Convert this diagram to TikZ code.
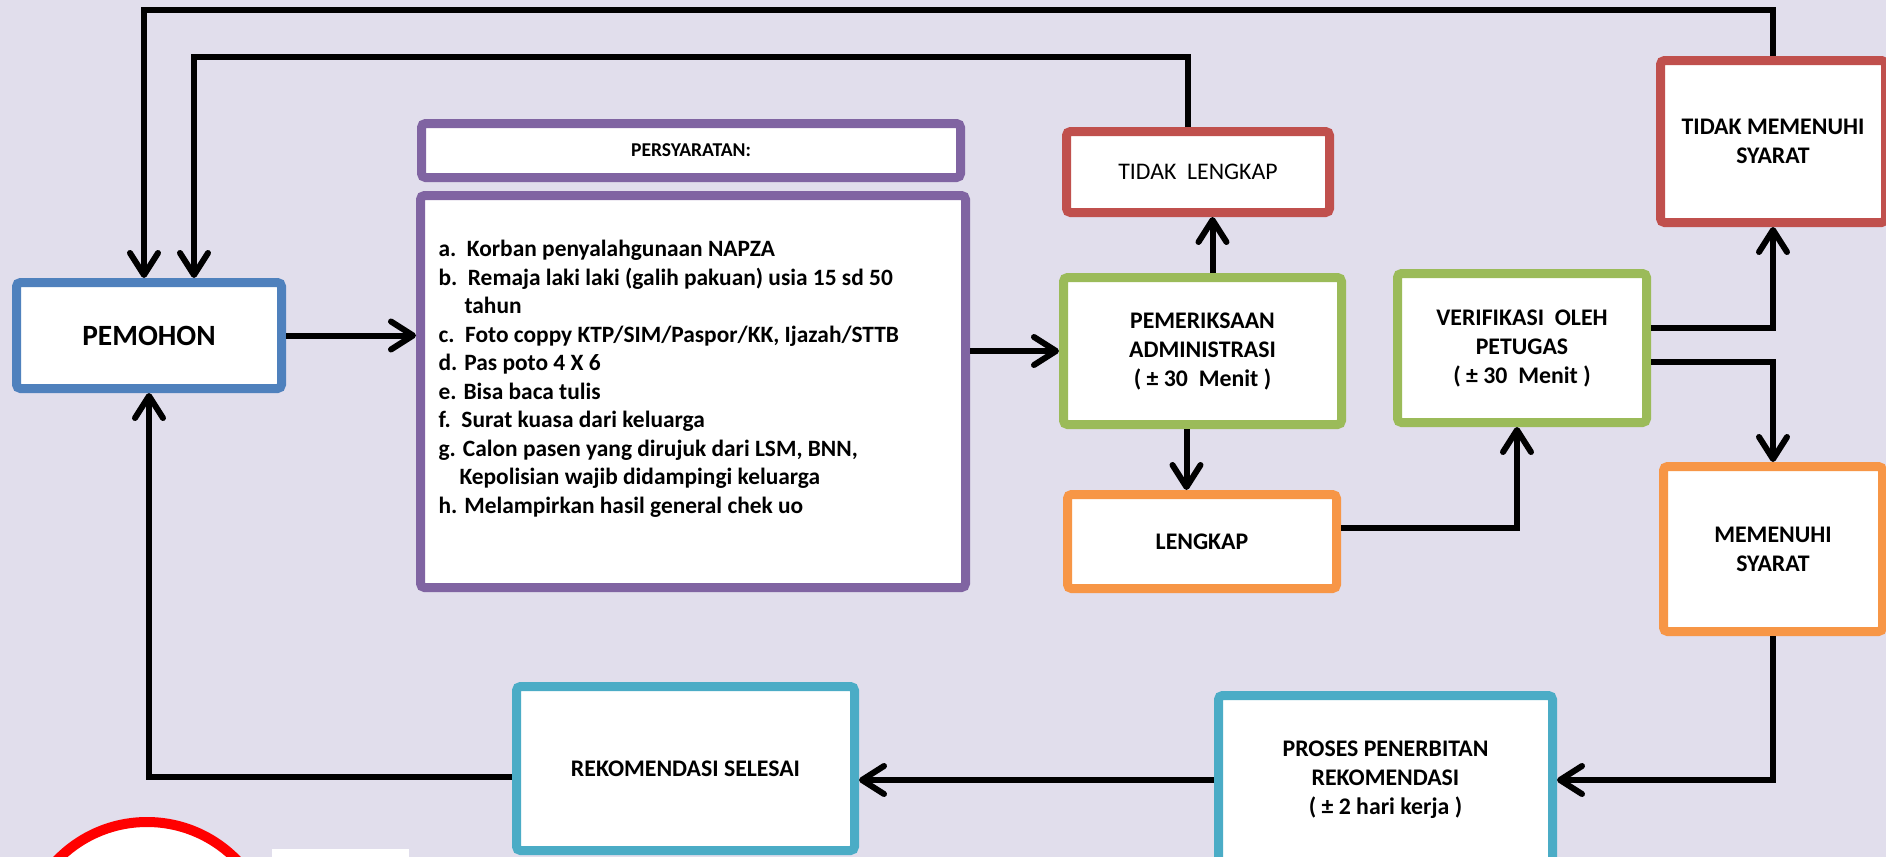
\documentclass[tikz,border=0pt]{standalone}
\usepackage{fontspec}
\setmainfont{Carlito}
\usetikzlibrary{arrows.meta}
\definecolor{latar}{RGB}{225,222,236}
\definecolor{biru}{RGB}{79,129,189}
\definecolor{ungu}{RGB}{128,100,162}
\definecolor{merah}{RGB}{192,80,77}
\definecolor{hijau}{RGB}{155,187,89}
\definecolor{oranye}{RGB}{247,150,70}
\definecolor{tosca}{RGB}{75,172,198}

\begin{document}
\begin{tikzpicture}
  [x=0.5pt,y=-0.5pt,every node/.style={rectangle,draw,fill=white,line width=4.5pt,rounded corners=2pt,align=center,font=\bfseries\fontsize{11.9}{14.5}\selectfont}]
  \tikzstyle{arr} = [line width=3pt,-{Straight Barb[length=11pt,width=14pt,round]}]
  \tikzstyle{teks} = [draw=none,fill=none,align=left,inner sep=0pt]
  \useasboundingbox (0,0) rectangle (1886,857);
  \fill[latar] (0,0) rectangle (1886,857);
  \clip (0,0) rectangle (1886,857);
  \node[draw=biru,minimum width=132.5pt,minimum height=53pt,font=\bfseries\fontsize{14.7}{17}\selectfont] (pemohon) at (149,335.5) {PEMOHON};
  \node[draw=ungu,minimum width=269.5pt,minimum height=27pt,font=\bfseries\fontsize{9.8}{12}\selectfont] (judul) at (691,150.5) {PERSYARATAN:};
  \node[draw=ungu,minimum width=272.5pt,minimum height=196pt] (syarat) at (693,391.5) {};
  \node[teks,anchor=north west,font=\bfseries\fontsize{11.7}{14.25}\selectfont] (daftar) at (434,236)
    {a.\ \ Korban penyalahgunaan NAPZA\\
     b.\ \ Remaja laki laki (galih pakuan) usia 15 sd 50\\
     \hspace*{13pt}tahun\\
     c.\ \ Foto coppy KTP/SIM/Paspor/KK, Ijazah/STTB\\
     d. Pas poto 4 X 6\\
     e. Bisa baca tulis\\
     f.\ \ Surat kuasa dari keluarga\\
     g. Calon pasen yang dirujuk dari LSM, BNN,\\
     \hspace*{10.5pt}Kepolisian wajib didampingi keluarga\\
     h. Melampirkan hasil general chek uo};
  \node[draw=merah,minimum width=131.5pt,minimum height=40.5pt,font=\fontsize{11.9}{14}\selectfont] (tl) at (1198,172) {TIDAK\ \ LENGKAP};
  \node[draw=hijau,minimum width=139pt,minimum height=73.5pt] (periksa) at (1202.5,351) {PEMERIKSAAN\\ADMINISTRASI\\( ± 30\ \ Menit )};
  \node[draw=oranye,minimum width=134.5pt,minimum height=47pt] (lengkap) at (1202,541.5) {LENGKAP};
  \node[draw=hijau,minimum width=124.5pt,minimum height=74.5pt] (verif) at (1522,348) {VERIFIKASI\ \ OLEH\\PETUGAS\\( ± 30\ \ Menit )};
  \node[draw=merah,minimum width=112.5pt,minimum height=81pt] (tms) at (1773,141.5) {TIDAK MEMENUHI\\SYARAT};
  \node[draw=oranye,minimum width=109.5pt,minimum height=82.5pt] (ms) at (1773,549) {MEMENUHI\\SYARAT};
  \node[draw=tosca,minimum width=167pt,minimum height=84.5pt] (proses) at (1385.5,780) {PROSES PENERBITAN\\REKOMENDASI\\( ± 2 hari kerja )};
  \node[draw=tosca,minimum width=169pt,minimum height=82pt] (selesai) at (685.5,768.5) {REKOMENDASI SELESAI};
  \coordinate (atas1) at (144,10);
  \coordinate (atas2) at (194,57);
  \draw[arr] (pemohon.east) -- (pemohon.east -| syarat.west);
  \draw[arr] (syarat.east |- periksa.west) -- (periksa.west);
  \draw[arr] ([xshift=5pt]periksa.north) -- ([xshift=5pt]periksa.north |- tl.south);
  \draw[arr] ([xshift=-8pt]periksa.south) -- ([xshift=-8pt]periksa.south |- lengkap.north);
  \draw[arr] ([yshift=6.75pt]lengkap.east) -| ([xshift=-2.5pt]verif.south);
  \draw[arr] ([yshift=10pt]verif.east) -| (tms.south);
  \draw[arr] ([yshift=-7pt]verif.east) -| (ms.north);
  \draw[arr] (ms.south) |- (proses.east);
  \draw[arr] (proses.west) -- (proses.west -| selesai.east);
  \draw[arr] ([yshift=-4.25pt]selesai.west) -| (pemohon.south);
  \draw[arr] (tms.north) |- (atas1) -- (atas1 |- pemohon.north);
  \draw[arr] ([xshift=-5pt]tl.north) |- (atas2) -- (atas2 |- pemohon.north);
  % lingkaran merah di pojok kiri bawah
  \draw[red,line width=5pt,fill=white] (147,947) circle[radius=62.5pt];
  \fill[white] (272,849) rectangle (409,862);
\end{tikzpicture}
\end{document}
